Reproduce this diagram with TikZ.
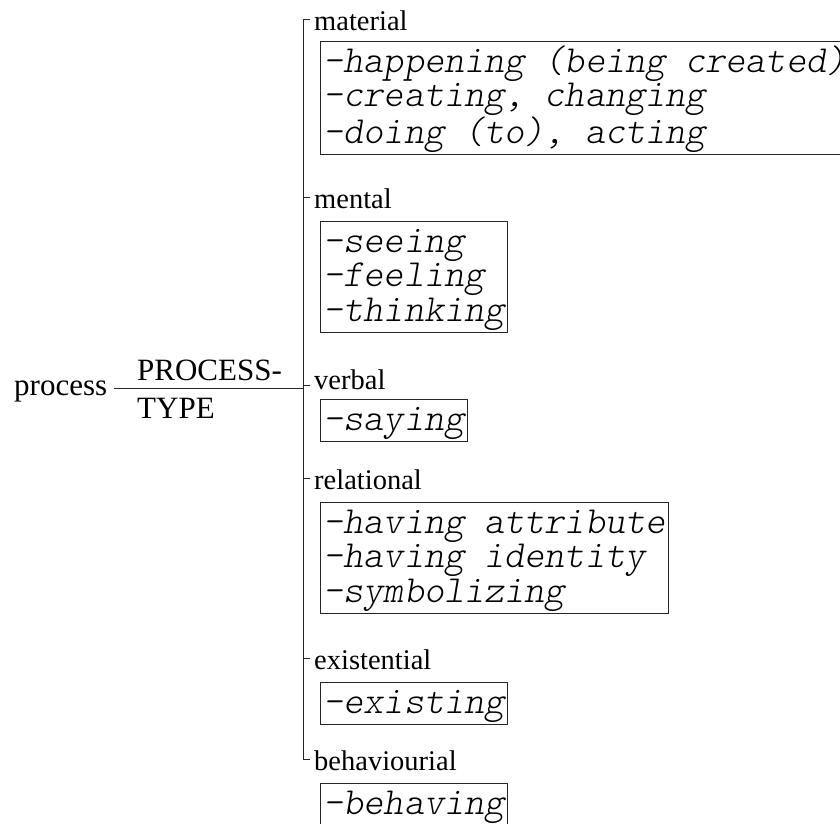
\documentclass[tikz,border=0pt]{standalone}
\usepackage{fontspec}
\setmainfont{Liberation Serif}
\newfontfamily\itemfont{lmmonolt10-oblique}[Extension=.otf]
\newcommand\topstrut{\rule{0pt}{31pt}}
\newcommand\botstrut{\rule[-11pt]{0pt}{0pt}}
\begin{document}
\begin{tikzpicture}[x=1pt,y=-1pt,
  bigtext/.style={font=\fontsize{31}{36}\selectfont, inner sep=0pt},
  branch/.style={font=\fontsize{28.5}{33}\selectfont, inner sep=0pt, anchor=base west},
  itembox/.style={draw=black!85, line width=0.9pt, inner xsep=3.15pt, inner ysep=0pt,
    align=left, anchor=north west,
    font=\fontsize{38.3}{34.5}\selectfont\itemfont},
  wire/.style={draw=black!85, line width=0.9pt}]
\useasboundingbox (0,0) rectangle (840,823);

% left side: feature and system name
\node[bigtext, anchor=base west] (proc) at (14,395) {process};
\node[bigtext, anchor=base west] (sys1) at (137,380) {PROCESS-};
\node[bigtext, anchor=base west] (sys2) at (137,418) {TYPE};
\coordinate (join) at (303,388);
\draw[wire] ([xshift=7pt,yshift=7pt]proc.base east) -- (join);

% options of the system
\node[branch] (mat) at (314,30)  {material};
\node[branch] (men) at (314,208) {mental};
\node[branch] (ver) at (314,389) {verbal};
\node[branch] (rel) at (314,489) {relational};
\node[branch] (exi) at (314,669) {existential};
\node[branch] (beh) at (314,770) {behaviourial};

% bracket spine with ticks
\coordinate (tmat) at ([xshift=-4pt,yshift=11pt]mat.base west);
\coordinate (tbeh) at ([xshift=-4pt,yshift=11pt]beh.base west);
\draw[wire] (tmat) -- ++(-7,0) coordinate (spinetop) -- (spinetop |- tbeh) -- (tbeh);
\foreach \n in {men,rel,exi}
  \draw[wire] ([xshift=-4pt,yshift=11pt]\n.base west) -- ++(-7,0);
\draw[wire] ([xshift=-4pt,yshift=4pt]ver.base west) -- ++(-7,0);

% realisation boxes
\node[itembox] (bmat) at (320,41)  {\topstrut-happening (being created)\\-creating, changing\\-doing (to), acting\botstrut};
\node[itembox] (bmen) at (320,221) {\topstrut-seeing\\-feeling\\-thinking\botstrut};
\node[itembox] (bver) at (320,399) {\topstrut-saying\botstrut};
\node[itembox] (brel) at (320,502) {\topstrut-having attribute\\-having identity\\-symbolizing\botstrut};
\node[itembox] (bexi) at (320,682) {\topstrut-existing\botstrut};
\node[itembox] (bbeh) at (320,783) {\topstrut-behaving\botstrut};
\end{tikzpicture}
\end{document}
